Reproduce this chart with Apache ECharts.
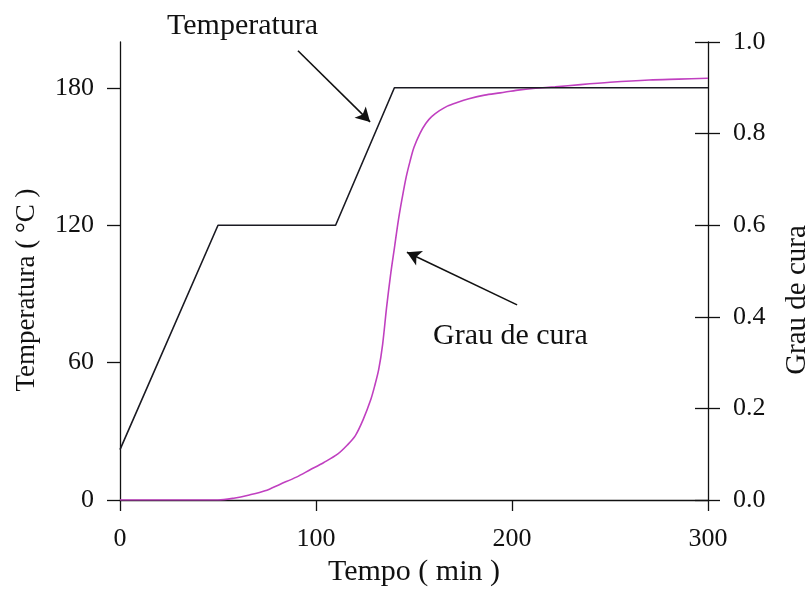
<!DOCTYPE html>
<html>
<head>
<meta charset="utf-8">
<script src="https://cdn.jsdelivr.net/npm/echarts@6/dist/echarts.min.js"></script>
<style>
  html, body { margin: 0; padding: 0; background: #fff; }
  #chart { width: 809px; height: 597px; }
</style>
</head>
<body>
<div id="chart"></div>
<script>
// Cure cycle: oven temperature profile and degree of cure versus time
const tempTime = [0, 50, 110, 140, 300];
const tempValues = [22, 120, 120, 180, 180];

const cureTime = [0, 50, 58, 66, 74, 82, 90, 97, 104, 111, 116, 120, 124, 128, 130, 132, 134, 136, 138, 140, 142, 144, 146, 148, 150, 153, 156, 159, 163, 167, 172, 178, 186, 194, 203, 212, 222, 235, 250, 270, 285, 300];
const cureValues = [0, 0, 0.004, 0.011, 0.02, 0.035, 0.05, 0.066, 0.082, 0.1, 0.12, 0.14, 0.175, 0.22, 0.25, 0.285, 0.34, 0.42, 0.49, 0.55, 0.61, 0.66, 0.705, 0.74, 0.77, 0.80, 0.822, 0.837, 0.85, 0.86, 0.868, 0.876, 0.884, 0.889, 0.895, 0.899, 0.902, 0.907, 0.912, 0.917, 0.919, 0.921];

const xTicks = [0, 100, 200, 300];
const tempTicks = [0, 60, 120, 180];
const cureTicks = [0, 0.2, 0.4, 0.6, 0.8, 1.0];

// Arrow annotations in data coordinates: [tail, head]
const tempArrow = [[90.8, 196.2], [127.6, 165.1]];
const cureArrow = [[202.6, 0.426], [146.4, 0.541]];

const FONT = 'Liberation Serif';
const INK = '#111';

const zip = (a, b) => a.map((v, i) => [v, b[i]]);

const arrowLine = (pair) => ({
  silent: true,
  symbol: ['none', 'arrow'],
  symbolSize: [12, 14],
  label: { show: false },
  lineStyle: { color: INK, width: 1.6, type: 'solid' },
  data: [[{ coord: pair[0] }, { coord: pair[1] }]]
});

const chart = echarts.init(document.getElementById('chart'));
chart.setOption({
  backgroundColor: '#fff',
  animation: false,
  grid: { left: 120, right: 101, top: 42, bottom: 97, containLabel: false, outerBoundsMode: 'none' },
  xAxis: {
    type: 'value',
    min: 0, max: 300, interval: 100,
    name: 'Tempo ( min )',
    nameLocation: 'middle',
    nameGap: 53,
    nameTextStyle: { fontFamily: FONT, fontSize: 30, color: INK },
    axisLine: { show: true, lineStyle: { color: INK, width: 1.3 } },
    axisTick: { show: true, length: 11, lineStyle: { color: INK, width: 1.3 }, customValues: xTicks },
    axisLabel: { fontFamily: FONT, fontSize: 26, color: INK, margin: 26, customValues: xTicks },
    splitLine: { show: false }
  },
  yAxis: [
    {
      type: 'value',
      position: 'left',
      min: 0, max: 200,
      name: 'Temperatura ( °C )',
      nameLocation: 'middle',
      nameGap: 80,
      nameTextStyle: { fontFamily: FONT, fontSize: 27, color: INK, padding: [0, 38, 0, 0] },
      axisLine: { show: true, lineStyle: { color: INK, width: 1.3 } },
      axisTick: { show: true, length: 13, lineStyle: { color: INK, width: 1.3 }, customValues: tempTicks },
      axisLabel: { fontFamily: FONT, fontSize: 26, color: INK, margin: 26, customValues: tempTicks },
      splitLine: { show: false }
    },
    {
      type: 'value',
      position: 'right',
      min: 0, max: 1, interval: 0.2,
      name: 'Grau de cura',
      nameLocation: 'middle',
      nameGap: 75,
      nameTextStyle: { fontFamily: FONT, fontSize: 29, color: INK, padding: [0, 58, 0, 0] },
      axisLine: { show: true, lineStyle: { color: INK, width: 1.3 } },
      axisTick: { show: true, length: 12, lineStyle: { color: INK, width: 1.3 }, customValues: cureTicks },
      axisLabel: { fontFamily: FONT, fontSize: 26, color: INK, margin: 25, customValues: cureTicks, formatter: v => v.toFixed(1) },
      splitLine: { show: false }
    },
    {
      // inner half of the crossing ticks on the right axis
      type: 'value',
      position: 'right',
      min: 0, max: 1, interval: 0.2,
      axisLine: { show: false },
      axisTick: { show: true, inside: true, length: 13, lineStyle: { color: INK, width: 1.3 }, customValues: cureTicks },
      axisLabel: { show: false },
      splitLine: { show: false }
    }
  ],
  series: [
    {
      name: 'Temperatura',
      type: 'line',
      yAxisIndex: 0,
      data: zip(tempTime, tempValues),
      showSymbol: false,
      lineStyle: { color: '#1a1a22', width: 1.6 },
      z: 3,
      markLine: arrowLine(tempArrow)
    },
    {
      name: 'Grau de cura',
      type: 'line',
      yAxisIndex: 1,
      data: zip(cureTime, cureValues),
      showSymbol: false,
      smooth: 0.3,
      lineStyle: { color: '#c040c0', width: 1.6 },
      z: 2,
      markLine: arrowLine(cureArrow)
    }
  ],
  graphic: [
    {
      type: 'text',
      left: 167, top: 11,
      style: { text: 'Temperatura', fontFamily: FONT, fontSize: 30, fill: INK }
    },
    {
      type: 'text',
      left: 433, top: 321,
      style: { text: 'Grau de cura', fontFamily: FONT, fontSize: 30, fill: INK }
    }
  ]
});
</script>
</body>
</html>
